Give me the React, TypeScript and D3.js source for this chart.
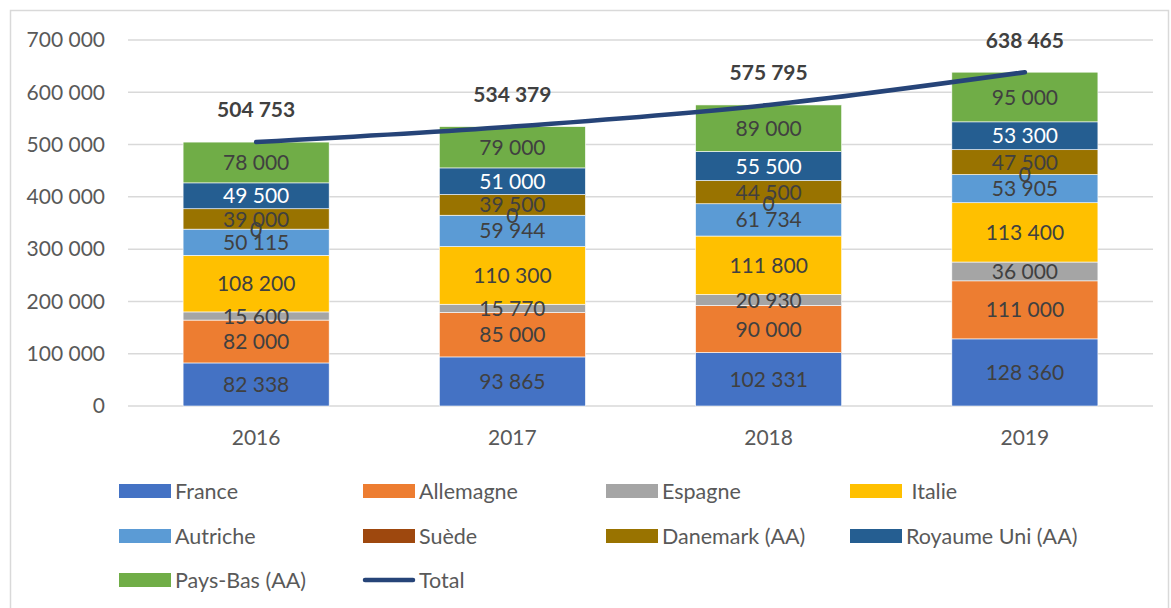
import React from 'react';
import * as d3 from 'd3';

const years = ['2016', '2017', '2018', '2019'];
const seriesNames = ['France', 'Allemagne', 'Espagne', 'Italie', 'Autriche', 'Suède', 'Danemark (AA)', 'Royaume Uni (AA)', 'Pays-Bas (AA)'];
const france = [82338, 93865, 102331, 128360];
const allemagne = [82000, 85000, 90000, 111000];
const espagne = [15600, 15770, 20930, 36000];
const italie = [108200, 110300, 111800, 113400];
const autriche = [50115, 59944, 61734, 53905];
const suede = [0, 0, 0, 0];
const danemark = [39000, 39500, 44500, 47500];
const royaumeUni = [49500, 51000, 55500, 53300];
const paysBas = [78000, 79000, 89000, 95000];
const totals = [504753, 534379, 575795, 638465];
const yTicks = [0, 100000, 200000, 300000, 400000, 500000, 600000, 700000];

const colors = ['#4472C4', '#ED7D31', '#A5A5A5', '#FFC000', '#5B9BD5', '#9E480E', '#997300', '#255E91', '#70AD47'];
const lineColor = '#264478';
const font = 'Lato, "Noto Sans", sans-serif';

const fmt = (v: number) => d3.format(',')(v).replace(/,/g, ' ');

export default function App() {
  const W = 1171, H = 608;
  const left = 128, right = 1153, top = 40, bottom = 406;

  const allSeries = [france, allemagne, espagne, italie, autriche, suede, danemark, royaumeUni, paysBas];
  const rows = years.map((yr, i) => {
    const r: any = { year: yr };
    seriesNames.forEach((s, k) => { r[s] = allSeries[k][i]; });
    return r;
  });
  const stacked = d3.stack<any>().keys(seriesNames)(rows);

  const x = d3.scaleBand().domain(years).range([left, right]).paddingInner(0.43).paddingOuter(0.215);
  const y = d3.scaleLinear().domain([0, 700000]).range([bottom, top]);

  const line = d3.line<number>()
    .x((_, i) => (x(years[i]) as number) + x.bandwidth() / 2)
    .y(d => y(d))
    .curve(d3.curveCatmullRom.alpha(0.5));

  const legendCols = [119, 363, 606, 850];
  const legendRows = [491, 536, 580];
  const legendItems = [...seriesNames.map((s, k) => ({ name: s === 'Italie' ? ' Italie' : s, color: colors[k], isLine: false })),
    { name: 'Total', color: lineColor, isLine: true }];

  return (
    <svg width={W} height={H} style={{ position: 'absolute', left: 0, top: 0 }} fontFamily={font}>
      <rect x={0} y={0} width={W} height={H} fill="#fff" />
      <rect x={10.5} y={10.5} width={1158} height={640} fill="none" stroke="#D9D9D9" strokeWidth={1.5} />
      {yTicks.map(t => (
        <g key={t}>
          <line x1={left} x2={right} y1={y(t)} y2={y(t)} stroke="#D9D9D9" strokeWidth={1.5} />
          <text x={105} y={y(t)} dy="0.35em" textAnchor="end" fontSize={21} fill="#595959">{fmt(t)}</text>
        </g>
      ))}
      {years.map(yr => (
        <text key={yr} x={(x(yr) as number) + x.bandwidth() / 2} y={438} dy="0.35em" textAnchor="middle" fontSize={21} fill="#595959">{yr}</text>
      ))}
      {stacked.map((layer, k) => (
        <g key={layer.key} fill={colors[k]}>
          {layer.map((d, i) => (
            <rect key={i} x={x(years[i])} y={y(d[1])} width={x.bandwidth()} height={y(d[0]) - y(d[1])}
              stroke="#fff" strokeWidth={d[1] > d[0] ? 0.6 : 0} />
          ))}
        </g>
      ))}
      {stacked.map((layer, k) => (
        <g key={layer.key + '-lbl'}>
          {layer.map((d, i) => (
            <text key={i} x={(x(years[i]) as number) + x.bandwidth() / 2} y={(y(d[0]) + y(d[1])) / 2} dy="0.36em"
              textAnchor="middle" fontSize={21} fill={k === 7 ? '#fff' : '#404040'}>{fmt(d[1] - d[0])}</text>
          ))}
        </g>
      ))}
      <path d={line(totals) || ''} fill="none" stroke={lineColor} strokeWidth={4.5} strokeLinecap="round" />
      {totals.map((t, i) => (
        <text key={i} x={(x(years[i]) as number) + x.bandwidth() / 2} y={y(t) - 32} dy="0.35em" textAnchor="middle"
          fontSize={21} fontWeight="bold" fill="#404040">{fmt(t)}</text>
      ))}
      {legendItems.map((it, n) => {
        const cx = legendCols[n % 4];
        const cy = legendRows[Math.floor(n / 4)];
        return (
          <g key={it.name}>
            {it.isLine
              ? <line x1={cx + 2} x2={cx + 50} y1={cy} y2={cy} stroke={it.color} strokeWidth={4.5} strokeLinecap="round" />
              : <rect x={cx} y={cy - 7} width={52} height={14} fill={it.color} />}
            <text x={cx + 56} y={cy} dy="0.35em" fontSize={21.5} fill="#595959" style={{ whiteSpace: 'pre' }}>{it.name}</text>
          </g>
        );
      })}
    </svg>
  );
}
